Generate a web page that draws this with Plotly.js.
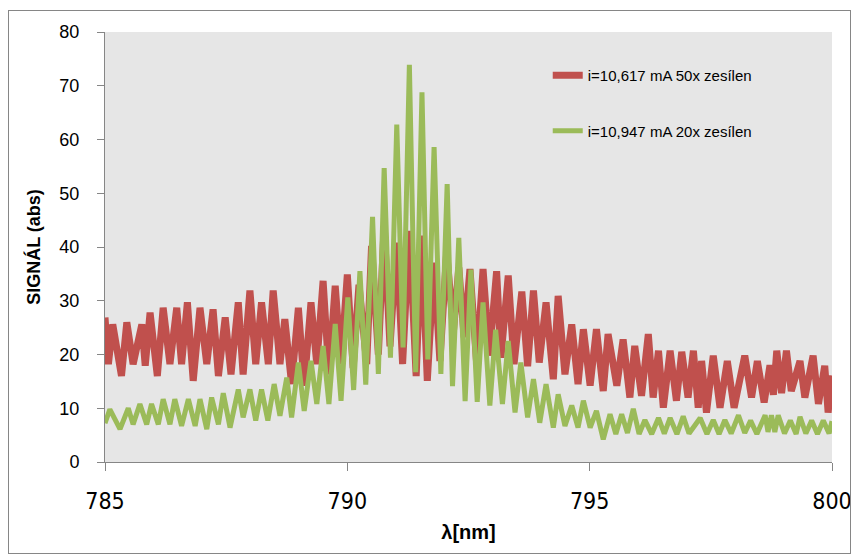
<!DOCTYPE html>
<html>
<head>
<meta charset="utf-8">
<script src="https://cdn.plot.ly/plotly-3.0.1.min.js"></script>
<style>
html,body{margin:0;padding:0;background:#fff;}
#wrap{position:relative;width:853px;height:555px;}
#chart{position:absolute;left:0;top:0;width:853px;height:555px;}
#frame{position:absolute;left:8px;top:10px;width:841px;height:542px;border:1px solid #868686;pointer-events:none;}
</style>
</head>
<body>
<div id="wrap"><div id="chart"></div><div id="frame"></div></div>
<script>
// Red series: i=10,617 mA 50x zesílen  (wavelength nm, signal)
const redX = [785.00,785.07,785.16,785.34,785.45,785.58,785.76,785.83,785.93,786.08,786.20,786.34,786.48,786.58,786.70,786.82,786.96,787.10,787.23,787.34,787.48,787.60,787.75,787.85,787.99,788.11,788.23,788.37,788.47,788.61,788.71,788.85,788.99,789.11,789.25,789.37,789.50,789.62,789.75,789.87,790.00,790.12,790.24,790.40,790.50,790.64,790.76,790.88,791.02,791.14,791.28,791.42,791.53,791.65,791.79,791.91,792.05,792.19,792.30,792.41,792.53,792.67,792.80,792.93,793.08,793.17,793.32,793.44,793.60,793.72,793.84,793.96,794.10,794.25,794.35,794.49,794.63,794.76,794.87,795.01,795.14,795.28,795.38,795.56,795.69,795.83,795.93,796.07,796.21,796.31,796.42,796.52,796.66,796.79,796.90,797.03,797.14,797.24,797.31,797.41,797.55,797.69,797.84,797.98,798.20,798.34,798.46,798.60,798.72,798.79,798.86,798.96,799.06,799.16,799.34,799.44,799.61,799.72,799.85,799.92,800.00];
const redY = [26.9,18.2,25.6,16.0,26.0,18.2,25.6,17.9,27.8,16.0,28.7,18.2,28.7,18.2,29.7,15.1,28.7,18.2,28.4,16.0,26.9,16.3,29.7,16.3,31.9,18.2,29.7,18.2,31.9,18.2,26.6,14.5,28.7,14.2,29.7,18.2,33.7,16.3,32.8,18.2,34.9,17.5,33.0,18.2,40.2,20.0,43.9,21.5,40.8,18.2,43.0,16.0,42.1,15.1,37.1,18.8,39.0,24.4,36.2,23.2,35.9,18.2,35.9,19.8,35.5,19.4,34.7,18.2,31.7,17.8,31.9,18.5,29.7,15.4,30.9,16.3,25.6,14.5,24.7,14.2,24.7,13.2,23.8,14.2,22.8,12.0,21.6,12.3,23.8,12.0,20.7,10.1,20.7,11.4,20.5,12.0,20.7,10.1,18.8,9.2,19.8,10.1,18.8,10.1,19.8,12.0,18.8,11.1,18.0,12.5,20.7,12.8,20.7,13.2,18.8,12.0,19.8,10.8,17.9,9.2,16.1];

// Green series: i=10,947 mA 20x zesílen
const greenX = [785.00,785.10,785.31,785.48,785.58,785.72,785.86,785.96,786.10,786.20,786.34,786.44,786.58,786.72,786.86,786.96,787.10,787.20,787.34,787.44,787.58,787.75,787.85,787.99,788.11,788.23,788.36,788.49,788.61,788.75,788.85,788.99,789.11,789.25,789.37,789.50,789.62,789.75,789.87,790.01,790.13,790.26,790.38,790.52,790.64,790.76,790.89,791.02,791.15,791.28,791.41,791.54,791.66,791.79,791.93,792.06,792.17,792.30,792.43,792.55,792.68,792.80,792.94,793.06,793.20,793.32,793.46,793.58,793.72,793.84,793.97,794.10,794.25,794.35,794.49,794.63,794.76,794.87,795.01,795.14,795.28,795.42,795.54,795.66,795.78,795.90,796.02,796.14,796.28,796.42,796.54,796.66,796.80,796.93,797.05,797.28,797.42,797.55,797.67,797.79,797.92,798.07,798.20,798.32,798.45,798.62,798.68,798.75,798.82,798.89,799.02,799.14,799.26,799.34,799.46,799.58,799.70,799.82,799.94,800.00];
const greenY = [7.2,9.8,6.1,10.0,7.0,10.8,7.0,10.8,7.0,11.7,7.0,11.7,6.7,11.7,6.7,11.7,6.1,12.0,7.0,12.8,6.4,13.5,8.3,13.5,7.7,13.5,7.7,14.5,8.6,15.7,8.3,18.5,9.5,18.8,10.8,21.6,10.8,25.7,11.4,30.6,13.4,35.5,14.4,45.6,16.4,54.7,19.4,62.8,21.3,73.9,16.7,68.8,19.1,58.6,16.4,51.7,14.1,41.7,11.3,35.8,11.2,29.7,10.5,24.6,10.8,22.5,9.2,18.5,8.3,15.4,7.3,14.5,6.4,12.6,6.7,10.5,6.4,11.4,6.4,9.5,4.2,8.9,5.2,8.9,5.4,9.9,5.2,7.8,5.2,8.2,5.3,8.2,5.2,8.5,5.3,8.2,5.2,7.8,5.2,7.8,5.3,8.7,5.4,7.7,5.2,8.7,5.6,8.7,5.6,8.7,5.3,7.7,5.2,8.4,5.3,7.7,5.2,7.7,5.3,7.6];

const seriesNames = ["i=10,617 mA 50x zesílen", "i=10,947 mA 20x zesílen"];
const xTicks = [785, 790, 795, 800];
const yTicks = [0, 10, 20, 30, 40, 50, 60, 70, 80];

const traces = [
  {x: redX, y: redY, type: 'scatter', mode: 'lines', name: seriesNames[0], legendgroup: 'a',
   line: {color: '#C0504D', width: 7}},
  {x: greenX, y: greenY, type: 'scatter', mode: 'lines', name: seriesNames[1], legendgroup: 'b',
   line: {color: '#9BBB59', width: 5}}
];

const layout = {
  width: 853, height: 555,
  margin: {l: 105, r: 21, t: 32, b: 93},
  paper_bgcolor: 'rgba(0,0,0,0)',
  plot_bgcolor: '#E6E6E6',
  font: {family: 'Liberation Sans, Arial, sans-serif', color: '#000'},
  showlegend: true,
  legend: {x: 0.609, y: 0.937, xanchor: 'left', yanchor: 'top', bgcolor: 'rgba(0,0,0,0)',
    traceorder: 'grouped', tracegroupgap: 33, font: {size: 15, family: 'Liberation Sans, Arial, sans-serif', color: '#000'}},
  xaxis: {
    range: [785, 800], tickvals: xTicks, ticktext: xTicks.map(String),
    showgrid: false, zeroline: false, showline: true, linecolor: '#868686', linewidth: 1,
    ticks: 'outside', ticklen: 8, tickcolor: '#868686', ticklabelstandoff: 10,
    tickfont: {size: 23, family: 'Liberation Sans Narrow, DejaVu Sans Condensed, Liberation Sans, Arial, sans-serif'},
    title: {text: '<b>λ[nm]</b>', standoff: 12, font: {size: 20, family: 'Liberation Sans Narrow, Liberation Sans, Arial, sans-serif'}},
    fixedrange: true
  },
  yaxis: {
    range: [0, 80], tickvals: yTicks, ticktext: yTicks.map(String),
    showgrid: false, zeroline: false, showline: true, linecolor: '#868686', linewidth: 1,
    ticks: 'outside', ticklen: 7, tickcolor: '#868686', ticklabelstandoff: 14,
    tickfont: {size: 18},
    title: {text: '<b>SIGNÁL (abs)</b>', standoff: 14, font: {size: 18}},
    fixedrange: true
  }
};

Plotly.newPlot('chart', traces, layout, {displayModeBar: false, staticPlot: true});
</script>
</body>
</html>
